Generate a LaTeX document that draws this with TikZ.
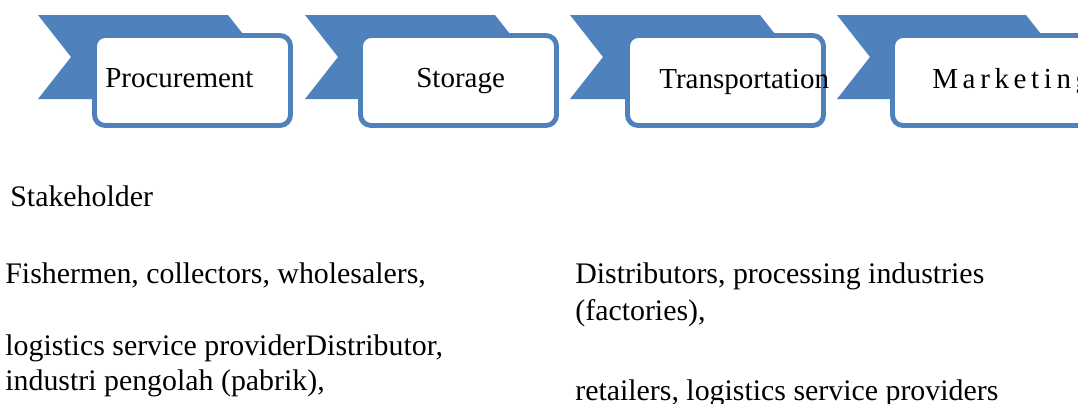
\documentclass[tikz,border=0pt]{standalone}
\usepackage{fontspec}
\newfontfamily\chainfont{Liberation Serif}
\usepackage{xcolor}
\definecolor{accentblue}{HTML}{4F81BD}

\begin{document}
\begin{tikzpicture}[x=0.02cm,y=-0.02cm,
  chevfill/.style={fill=accentblue},
  stagebox/.style={draw=accentblue,fill=white,line width=2.8pt,rounded corners=6pt,
                   minimum width=3.92cm,minimum height=1.8cm,inner sep=0pt},
  stagetext/.style={anchor=base west,inner sep=0pt,font=\chainfont\fontsize{16.5}{20}\selectfont},
  bodytext/.style={anchor=base west,inner sep=0pt,font=\chainfont\fontsize{17}{20}\selectfont}]

  \useasboundingbox (0,0) rectangle (1078,403);

  % ===== chevrons behind the stage boxes =====
  \fill[chevfill] (38,15)--(228,15)--(261,57)--(228,99)--(38,99)--(71,57)--cycle;
  \fill[chevfill] (305,15)--(495,15)--(528,57)--(495,99)--(305,99)--(338,57)--cycle;
  \fill[chevfill] (570,15)--(760,15)--(793,57)--(760,99)--(570,99)--(603,57)--cycle;
  \fill[chevfill] (837,15)--(1026,15)--(1059,57)--(1026,99)--(837,99)--(870,57)--cycle;

  % ===== stage boxes =====
  \node[stagebox] (procure) at (192.5,80.5) {};
  \node[stagebox] (storage) at (458.5,80.5) {};
  \node[stagebox] (transport) at (725.5,80.5) {};
  \node[stagebox] (market) at (990.5,80.5) {};

  % ===== stage labels =====
  \node[stagetext] (procureLbl) at (105,87) {Procurement};
  \node[stagetext] (storageLbl) at (416,87) {Storage};
  \node[stagetext] (transportLbl) at (659,88) {Transportation};
  \node[stagetext] (marketLbl) at (932,88) {\addfontfeature{LetterSpace=16}Marketing};

  % ===== stakeholders =====
  \node[bodytext] (stakeLbl) at (10,206) {Stakeholder};
  \node[bodytext] (leftA) at (5,283) {Fishermen, collectors, wholesalers,};
  \node[bodytext] (leftB) at (5,355) {logistics service providerDistributor,};
  \node[bodytext] (leftC) at (5,390) {industri pengolah (pabrik),};
  \node[bodytext] (rightA) at (575,283) {Distributors, processing industries};
  \node[bodytext] (rightB) at (575,320) {(factories),};
  \node[bodytext] (rightC) at (575,400) {retailers, logistics service providers};

\end{tikzpicture}
\end{document}
